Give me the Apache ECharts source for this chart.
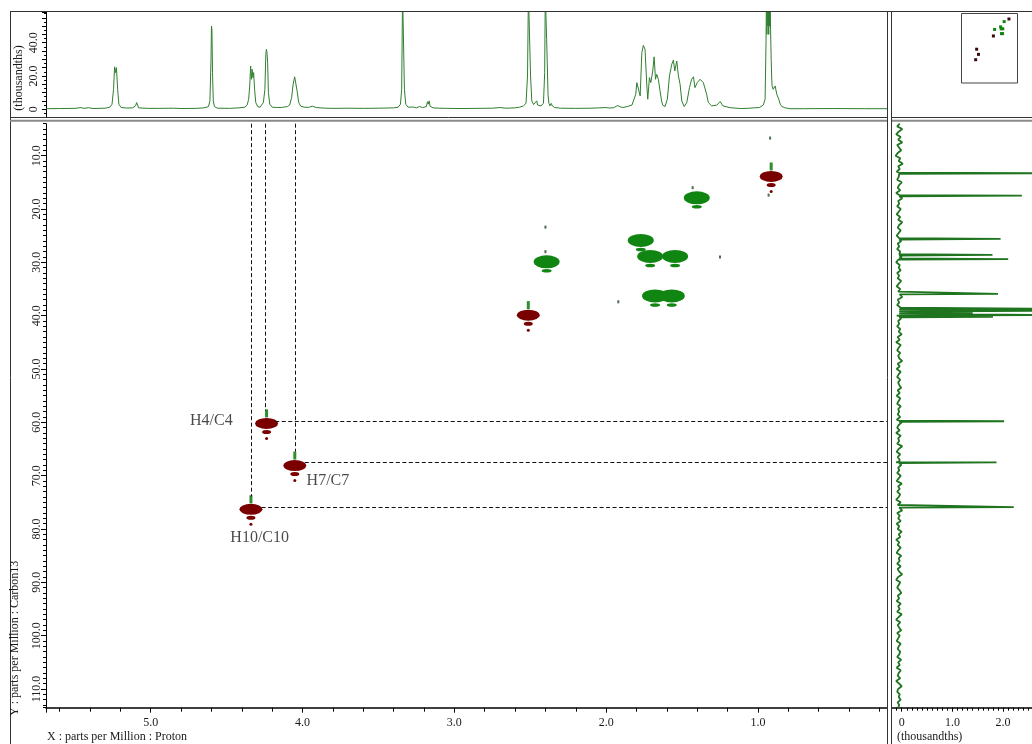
<!DOCTYPE html>
<html>
<head>
<meta charset="utf-8">
<script src="https://cdn.jsdelivr.net/npm/echarts@6/dist/echarts.min.js"></script>
<style>
html,body{margin:0;padding:0;background:#fff}
#chart{width:1032px;height:744px}
</style>
</head>
<body>
<div id="chart"></div>
<script>
// ---- 1H projection trace: [ppm, intensity (thousandths)] ----
const protonTrace = [
[5.69,0.3],[5.60,0.4],[5.50,0.5],[5.46,1.0],[5.44,0.5],[5.41,0.9],[5.38,0.4],[5.30,0.6],[5.27,1.2],
[5.255,3],[5.245,12],[5.238,25.5],[5.232,22],[5.226,25],[5.218,12],[5.21,3],[5.195,1],[5.16,0.7],
[5.12,0.8],[5.10,2],[5.093,4],[5.087,2.5],[5.08,0.8],[5.02,0.5],
[4.95,0.5],[4.85,0.6],[4.80,0.4],[4.70,0.5],[4.65,0.8],[4.62,1.5],[4.61,5],[4.603,30],[4.600,50],[4.597,48],[4.593,22],[4.588,5],[4.58,1.5],[4.56,0.6],
[4.48,0.5],[4.42,0.8],[4.38,1.2],[4.365,2.5],[4.355,6],[4.348,14],[4.342,26],[4.337,18],[4.332,24],[4.327,19],[4.322,22],[4.316,12],[4.308,4],[4.295,1.5],[4.28,1.2],[4.27,2],
[4.258,4],[4.248,12],[4.242,33],[4.238,36],[4.234,34],[4.230,28],[4.225,10],[4.216,3],[4.20,1.2],[4.17,1.0],[4.16,1.6],[4.14,1.0],[4.12,1.3],[4.10,1.6],
[4.085,2.5],[4.072,7],[4.062,15],[4.052,19.5],[4.045,18.5],[4.036,11],[4.025,4],[4.012,1.8],[3.99,1.2],[3.96,1.1],[3.935,1.8],[3.925,1.5],[3.91,1.0],
[3.85,0.6],[3.80,0.5],[3.70,0.6],[3.60,0.5],[3.50,0.6],[3.45,0.7],[3.40,0.8],
[3.37,1.2],[3.355,3],[3.347,12],[3.341,70],[3.334,70],[3.329,12],[3.32,3],[3.305,1.2],[3.27,1.3],[3.25,0.8],[3.23,1.6],[3.21,1.0],
[3.185,1.5],[3.177,4.5],[3.172,3],[3.166,5],[3.16,1.8],[3.14,0.8],[3.10,0.6],[3.05,0.5],
[2.95,0.4],[2.85,0.5],[2.75,0.6],[2.70,1.0],[2.66,0.6],[2.60,0.8],[2.57,1.2],[2.545,2],
[2.528,3.5],[2.518,20],[2.512,70],[2.507,70],[2.503,70],[2.498,20],[2.49,5],[2.478,2.8],[2.465,3],[2.457,5],[2.452,2.5],[2.43,2.0],
[2.413,3.5],[2.405,22],[2.401,70],[2.396,70],[2.392,42],[2.388,28],[2.383,9],[2.377,3.5],[2.37,2],[2.362,3.5],[2.355,2],[2.34,1.0],
[2.30,0.6],[2.20,0.5],[2.10,0.6],[2.05,0.8],[2.00,1.0],[1.98,0.7],[1.95,0.9],[1.925,2.2],[1.915,2.5],[1.905,1.4],[1.89,1.0],[1.86,1.6],[1.85,1.2],[1.83,2.5],
[1.82,2],[1.805,9],[1.798,16],[1.787,17],[1.776,8],[1.765,34],[1.755,38.4],[1.744,36],[1.732,14],[1.726,6],[1.715,19],[1.706,16],[1.693,23],[1.684,31.5],[1.675,18],[1.667,21],[1.656,18],[1.645,11],[1.635,5],[1.627,2.4],[1.612,1.6],
[1.597,6],[1.583,20],[1.568,27],[1.557,29.5],[1.548,23],[1.535,29],[1.524,20],[1.513,15],[1.502,5],[1.486,1.6],[1.469,4],[1.451,13],[1.437,18],[1.425,19.5],[1.415,13],[1.400,16],[1.381,18],[1.371,18.5],[1.360,16],[1.349,16],[1.338,9],[1.327,4],[1.305,2],[1.272,2.4],[1.249,4.6],[1.231,2],[1.183,0.9],[1.117,0.4],[1.07,0.5],[1.03,0.8],[0.99,1.0],[0.965,2.5],[0.953,6],
[0.947,40],[0.944,70],[0.941,45],[0.938,70],[0.935,50],[0.932,70],[0.929,45],[0.926,70],[0.923,50],[0.920,70],[0.917,48],[0.913,30],[0.910,20],[0.907,14],[0.900,12],[0.894,11],[0.887,14],[0.881,13],[0.876,9],[0.872,8],[0.863,6],[0.853,3],[0.843,1.6],[0.82,0.8],[0.789,0.3],[0.70,0.3],[0.50,0.4],[0.30,0.3],[0.15,0.3]
];

// ---- 13C projection: lines [ppm, intensity] and baseline noise (one value per half ppm from 4) ----
const carbonLines = [
[13.3,3.0],[17.5,2.37],[25.6,1.95],[28.6,1.79],[29.4,2.10],[35.9,1.90],
[38.7,3.0],[39.1,3.0],[39.5,1.4],[39.9,3.0],[40.2,1.8],
[59.8,2.02],[67.5,1.87],[75.9,2.21]
];
const carbonBaselineStart = 4;
const carbonBaselineStep = 0.5;
const carbonBaseline = [
-0.04,-0.09,0.01,-0.06,-0.11,-0.02,-0.07,0.01,-0.09,-0.05,-0.01,-0.08,-0.12,-0.03,-0.06,0.02,-0.07,-0.04,-0.10,-0.02,
-0.06,-0.09,0.00,-0.05,-0.08,-0.03,-0.11,-0.04,0.01,-0.07,-0.05,-0.09,-0.02,-0.06,-0.10,-0.03,-0.07,0.01,-0.05,-0.08,
-0.02,-0.06,-0.10,-0.04,-0.01,-0.08,-0.05,-0.09,-0.03,-0.06,0.00,-0.07,-0.11,-0.04,-0.06,-0.02,-0.09,-0.05,-0.08,-0.01,
-0.06,-0.10,-0.03,-0.07,-0.04,0.01,-0.08,-0.05,-0.09,-0.02,-0.06,-0.04,-0.10,-0.01,-0.07,-0.05,-0.09,-0.03,-0.06,0.00,
-0.08,-0.04,-0.11,-0.02,-0.06,-0.09,-0.03,-0.07,-0.05,0.01,-0.08,-0.04,-0.10,-0.02,-0.06,-0.09,-0.03,-0.07,-0.05,-0.01,
-0.08,-0.04,-0.10,-0.03,-0.06,-0.09,-0.02,-0.07,-0.05,-0.08,-0.03,-0.10,0.00,-0.06,-0.09,-0.04,-0.11,-0.02,-0.07,-0.05,
-0.09,0.01,-0.06,-0.10,-0.03,-0.08,-0.04,-0.11,-0.01,-0.07,-0.05,-0.09,-0.02,-0.06,-0.10,0.00,-0.07,-0.04,-0.09,-0.03,
-0.06,-0.11,-0.02,-0.08,-0.05,0.01,-0.09,-0.04,-0.07,-0.02,-0.10,-0.05,-0.08,0.00,-0.06,-0.03,-0.11,-0.05,-0.08,-0.02,
-0.07,-0.10,-0.01,-0.06,-0.04,-0.09,-0.02,-0.08,-0.05,0.01,-0.07,-0.11,-0.03,-0.06,-0.09,-0.04,-0.01,-0.08,-0.05,-0.10,
-0.02,-0.07,-0.04,-0.09,0.00,-0.06,-0.11,-0.03,-0.08,-0.05,-0.01,-0.09,-0.04,-0.07,-0.10,-0.02,-0.06,-0.08,-0.03,-0.05,
-0.09,-0.01,-0.07,-0.04,-0.10,-0.02,-0.06,-0.08,-0.03,-0.11,-0.05,0.00,-0.07,-0.09,-0.04,-0.06,-0.02,-0.08,-0.05,-0.07
];

// ---- HSQC correlations [1H ppm, 13C ppm] ----
const chCh3Peaks = [[0.913,13.9],[2.513,39.9],[4.237,60.2],[4.051,68.1],[4.34,76.3]];   // positive phase
const ch2Peaks = [[1.403,17.9],[1.772,25.9],[1.71,28.9],[1.546,28.9],[2.392,29.9],[1.678,36.3],[1.568,36.3]]; // negative phase
const weakPeaks = [[0.92,6.7],[0.93,17.4],[1.43,16.0],[2.40,23.4],[2.40,28.0],[1.25,29.0],[1.92,37.4]];

// ---- assigned correlations ----
const assignedLabels = ['H4/C4','H7/C7','H10/C10'];
const assignedH = [4.245, 4.05, 4.335];
const assignedC = [59.8, 67.5, 75.9];

// ---- axis ranges ----
const H_MIN = 0.15, H_MAX = 5.69;
const C_MIN = 4, C_MAX = 113.5;
const PROJ_MIN = -5, PROJ_MAX = 58.5;
const CPROJ_MIN = -0.2, CPROJ_MAX = 2.57;

const FONT = "'Liberation Serif','Times New Roman',serif";
const TXT = '#1a1a1a';
const GREEN = '#118511';
const RED = '#7a0000';

function carbonTrace() {
  const pts = carbonBaseline.map((v, i) => [v, carbonBaselineStart + i * carbonBaselineStep]);
  carbonLines.forEach(([ppm, h]) => {
    pts.push([-0.05, ppm - 0.12], [h, ppm], [-0.05, ppm + 0.12]);
  });
  pts.sort((a, b) => a[1] - b[1]);
  return pts;
}

const chart = echarts.init(document.getElementById('chart'), null, {renderer: 'canvas'});

const labelOffsets = [[-54, 0], [33, 18], [8, 31]];

const hidden = {show: false};
const tickLabelStyle = {fontFamily: FONT, fontSize: 12, color: TXT};
const solid = c => ({color: c, opacity: 1});

function line(x1, y1, x2, y2, stroke, w) {
  return {type: 'line', silent: true, z: 10,
    shape: {x1, y1, x2, y2}, style: {stroke, lineWidth: w || 1}};
}
function text(str, x, y, opts) {
  return Object.assign({type: 'text', silent: true, z: 10, x, y,
    style: {text: str, font: '12px ' + FONT, fill: TXT, textAlign: 'left', textVerticalAlign: 'middle'}}, opts || {});
}

const option = {
  animation: false,
  backgroundColor: '#fff',
  grid: [
    {left: 46, right: 145, top: 12, height: 105.5},                 // 0 proton projection
    {left: 46, right: 145, top: 123.67, height: 584},               // 1 HSQC map
    {left: 891.6, right: 0, top: 123.67, height: 584},              // 2 carbon projection
    {left: 961, top: 13, width: 57, height: 70}                     // 3 overview
  ],
  xAxis: [
    {gridIndex: 0, type: 'value', min: H_MIN, max: H_MAX, inverse: true, show: false},
    {gridIndex: 1, type: 'value', position: 'bottom', min: H_MIN, max: H_MAX, inverse: true, splitNumber: 5,
      axisLine: {show: true, lineStyle: {color: '#000', width: 1.5}},
      axisTick: {show: true, length: 5, lineStyle: {color: '#000'}},
      minorTick: {show: true, splitNumber: 5, length: 4, lineStyle: {color: '#000'}},
      splitLine: hidden,
      axisLabel: Object.assign({margin: 9, showMinLabel: false, showMaxLabel: false,
        formatter: v => v.toFixed(1)}, tickLabelStyle)},
    {gridIndex: 2, type: 'value', position: 'bottom', min: CPROJ_MIN, max: CPROJ_MAX, splitNumber: 3,
      axisLine: {show: true, lineStyle: {color: '#000', width: 1.5}},
      axisTick: {show: true, length: 4, lineStyle: {color: '#000'}},
      splitLine: hidden,
      axisLabel: Object.assign({margin: 9, showMinLabel: false, showMaxLabel: false,
        formatter: v => v === 0 ? '0' : v.toFixed(1)}, tickLabelStyle)},
    {gridIndex: 2, type: 'value', position: 'bottom', min: CPROJ_MIN, max: CPROJ_MAX, interval: 0.1,
      axisLine: hidden, splitLine: hidden, axisLabel: hidden,
      axisTick: {show: true, length: 3, lineStyle: {color: '#000'}}},
    {gridIndex: 3, type: 'value', min: -0.02, max: 5.85, inverse: true, show: false}
  ],
  yAxis: [
    {gridIndex: 0, type: 'value', position: 'left', min: PROJ_MIN, max: PROJ_MAX, interval: 5,
      axisLine: {show: true, lineStyle: {color: '#000', width: 1}},
      axisTick: {show: true, length: 4, lineStyle: {color: '#000'}},
      minorTick: {show: true, splitNumber: 2, length: 2, lineStyle: {color: '#000'}},
      splitLine: hidden,
      axisLabel: Object.assign({rotate: 90, margin: 6, showMaxLabel: false,
        formatter: v => v === 0 ? '0' : (v === 20 || v === 40) ? v.toFixed(1) : ''}, tickLabelStyle)},
    {gridIndex: 1, type: 'value', position: 'left', min: C_MIN, max: C_MAX, inverse: true, splitNumber: 11,
      axisLine: {show: true, lineStyle: {color: '#000', width: 1}},
      axisTick: {show: true, length: 5, lineStyle: {color: '#000'}},
      splitLine: hidden,
      axisLabel: Object.assign({rotate: 90, margin: 3, showMinLabel: false, showMaxLabel: false,
        formatter: v => v.toFixed(1)}, tickLabelStyle)},
    {gridIndex: 1, type: 'value', position: 'left', min: C_MIN, max: C_MAX, inverse: true, interval: 1,
      axisLine: hidden, splitLine: hidden, axisLabel: hidden,
      axisTick: {show: true, length: 3, lineStyle: {color: '#000'}}},
    {gridIndex: 2, type: 'value', min: C_MIN, max: C_MAX, inverse: true, show: false},
    {gridIndex: 3, type: 'value', min: 4.7, max: 112, inverse: true, show: false}
  ],
  series: [
    // proton projection
    {type: 'line', xAxisIndex: 0, yAxisIndex: 0, data: protonTrace, showSymbol: false,
      lineStyle: {color: '#2f7f2f', width: 1}, clip: true, z: 2},
    // carbon projection
    {type: 'line', xAxisIndex: 2, yAxisIndex: 3, data: carbonTrace(), showSymbol: false,
      lineStyle: {color: '#1f741f', width: 1.8}, clip: true, z: 2},
    // contour fragments around the main contour
    {type: 'scatter', xAxisIndex: 1, yAxisIndex: 1, data: ch2Peaks, symbol: 'circle',
      symbolSize: [10, 3.5], symbolOffset: [0, 9], itemStyle: solid(GREEN), z: 3, silent: true},
    {type: 'scatter', xAxisIndex: 1, yAxisIndex: 1, data: chCh3Peaks, symbol: 'circle',
      symbolSize: [9, 4], symbolOffset: [0, 8.5], itemStyle: solid(RED), z: 3, silent: true},
    {type: 'scatter', xAxisIndex: 1, yAxisIndex: 1, data: chCh3Peaks, symbol: 'circle',
      symbolSize: [3, 3], symbolOffset: [0, 15], itemStyle: solid(RED), z: 3, silent: true},
    {type: 'scatter', xAxisIndex: 1, yAxisIndex: 1, data: chCh3Peaks, symbol: 'rect',
      symbolSize: [3, 8], symbolOffset: [0, -10], itemStyle: solid('#2f8f2f'), z: 3, silent: true},
    // main contours
    {type: 'scatter', xAxisIndex: 1, yAxisIndex: 1, data: ch2Peaks, symbol: 'circle',
      symbolSize: [26, 13], itemStyle: solid(GREEN), z: 4, silent: true},
    {type: 'scatter', xAxisIndex: 1, yAxisIndex: 1, data: chCh3Peaks, symbol: 'circle',
      symbolSize: [23, 11], itemStyle: solid(RED), z: 4, silent: true},
    {type: 'scatter', xAxisIndex: 1, yAxisIndex: 1, data: weakPeaks, symbol: 'rect',
      symbolSize: [2, 3], itemStyle: solid('#4d6b4d'), z: 4, silent: true},
    // assignment labels and guide lines
    {type: 'scatter', xAxisIndex: 1, yAxisIndex: 1, symbolSize: 1, silent: true, z: 5,
      itemStyle: {color: 'rgba(0,0,0,0)'},
      data: assignedLabels.map((t, i) => ({value: [assignedH[i], assignedC[i]],
        label: {offset: labelOffsets[i]}})),
      label: {show: true, position: 'inside', formatter: p => assignedLabels[p.dataIndex],
        fontFamily: FONT, fontSize: 16, color: TXT},
      markLine: {silent: true, symbol: ['none', 'none'], label: {show: false}, animation: false,
        lineStyle: {type: [4, 2.5], color: '#111', width: 1},
        data: assignedH.map((h, i) => [{coord: [h, C_MIN]}, {coord: [h, assignedC[i] - 2]}])
          .concat(assignedH.map((h, i) => [{coord: [h - 0.065, assignedC[i]]}, {coord: [H_MIN, assignedC[i]]}]))}},
    // overview map
    {type: 'scatter', xAxisIndex: 4, yAxisIndex: 4, data: ch2Peaks, symbol: 'rect',
      symbolSize: [3, 3], itemStyle: solid(GREEN), z: 4, silent: true},
    {type: 'scatter', xAxisIndex: 4, yAxisIndex: 4, data: chCh3Peaks, symbol: 'rect',
      symbolSize: [3, 3], itemStyle: solid('#3a0a0a'), z: 4, silent: true}
  ],
  graphic: [
    line(10.5, 11, 10.5, 744, '#333'),
    line(10, 11.5, 1032, 11.5, '#333'),
    line(10, 117.5, 887, 117.5, '#333'),
    line(891, 117.5, 1032, 117.5, '#333'),
    line(10, 120.7, 887, 120.7, '#8a8a8a', 2),
    line(891, 120.7, 1032, 120.7, '#8a8a8a', 2),
    line(887.5, 11, 887.5, 744, '#333'),
    line(891.5, 11, 891.5, 744, '#333'),
    {type: 'rect', silent: true, z: 10, shape: {x: 961.5, y: 13.5, width: 56, height: 69.5},
      style: {fill: 'none', stroke: '#444', lineWidth: 1}},
    text('(thousandths)', 19, 78, {rotation: Math.PI / 2,
      style: {text: '(thousandths)', font: '12px ' + FONT, fill: TXT, textAlign: 'center', textVerticalAlign: 'middle'}}),
    text('Y : parts per Million : Carbon13', 15, 716, {rotation: Math.PI / 2}),
    text('X : parts per Million : Proton', 47, 737),
    text('(thousandths)', 897, 737)
  ]
};

chart.setOption(option);
</script>
</body>
</html>
